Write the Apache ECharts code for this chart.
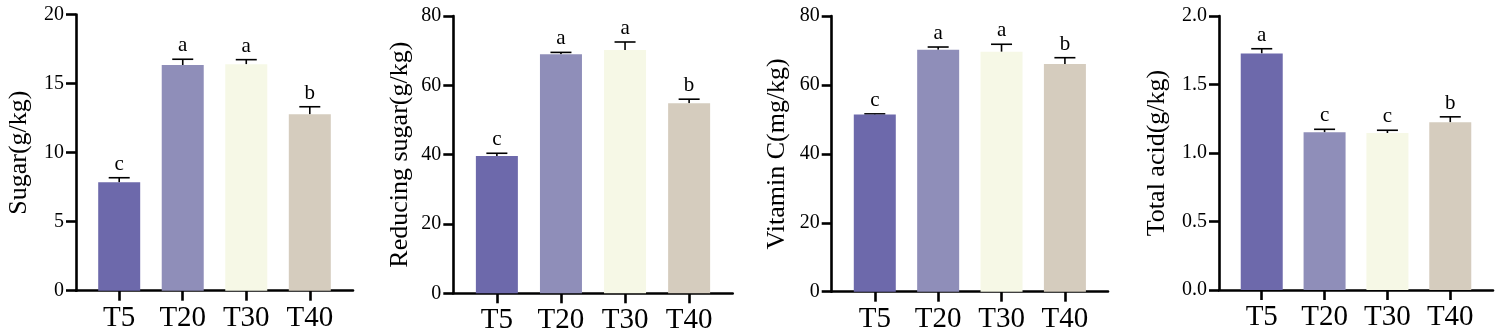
<!DOCTYPE html>
<html>
<head>
<meta charset="utf-8">
<script src="https://cdn.jsdelivr.net/npm/echarts@6/dist/echarts.min.js"></script>
<style>
html,body{margin:0;padding:0;background:#fff;}
#chart{width:1498px;height:336px;}
</style>
</head>
<body>
<div id="chart"></div>
<script>
// ---- data ----
var categories = ['T5', 'T20', 'T30', 'T40'];
var barColors = ['#6D69AB', '#8F8EB9', '#F6F8E6', '#D5CCBE'];

var sugarValues = [7.85, 16.34, 16.39, 12.77];
var sugarErrors = [0.33, 0.42, 0.34, 0.55];
var sugarLetters = ['c', 'a', 'a', 'b'];

var reducingValues = [39.6, 69.0, 70.2, 54.8];
var reducingErrors = [0.8, 0.5, 2.3, 1.2];
var reducingLetters = ['c', 'a', 'a', 'b'];

var vitaminValues = [51.4, 70.2, 69.6, 66.1];
var vitaminErrors = [0.2, 0.8, 2.2, 1.8];
var vitaminLetters = ['c', 'a', 'a', 'b'];

var acidValues = [1.727, 1.151, 1.146, 1.224];
var acidErrors = [0.034, 0.022, 0.02, 0.04];
var acidLetters = ['a', 'c', 'c', 'b'];

var panels = [
  {name: 'Sugar(g/kg)', values: sugarValues, errors: sugarErrors, letters: sugarLetters, max: 20, interval: 5, decimals: 0,
   grid: {left: 76, top: 14.5, width: 277, height: 276.2}, nameGap: 44},
  {name: 'Reducing sugar(g/kg)', values: reducingValues, errors: reducingErrors, letters: reducingLetters, max: 80, interval: 20, decimals: 0,
   grid: {left: 453.3, top: 16, width: 279.4, height: 277.3}, nameGap: 40},
  {name: 'Vitamin C(mg/kg)', values: vitaminValues, errors: vitaminErrors, letters: vitaminLetters, max: 80, interval: 20, decimals: 0,
   grid: {left: 831.7, top: 16, width: 276.3, height: 275.7}, nameGap: 42},
  {name: 'Total acid(g/kg)', values: acidValues, errors: acidErrors, letters: acidLetters, max: 2, interval: 0.5, decimals: 1,
   grid: {left: 1219, top: 16, width: 274, height: 274}, nameGap: 49}
];

// ---- chart ----
var FONT = "'Liberation Serif', 'Times New Roman', serif";
var OFFSET = 0.68;   // category centre offset within value x axis
var XMAX = 4.36;
var catPos = categories.map(function (c, i) { return i + OFFSET; });

var grids = [], xAxes = [], yAxes = [], series = [];
panels.forEach(function (p, k) {
  grids.push({left: p.grid.left, top: p.grid.top, width: p.grid.width, height: p.grid.height, containLabel: false});
  xAxes.push({
    type: 'value', gridIndex: k, min: 0, max: XMAX,
    splitLine: {show: false},
    axisLine: {show: true, onZero: false, lineStyle: {color: '#000', width: 2.6}},
    axisTick: {show: true, length: 10, lineStyle: {color: '#000', width: 2.6}, customValues: catPos},
    axisLabel: {
      show: true, margin: 13, color: '#000', fontFamily: FONT, fontSize: 29,
      customValues: catPos,
      formatter: function (v) { return categories[Math.round(v - OFFSET)]; }
    }
  });
  yAxes.push({
    type: 'value', gridIndex: k, min: 0, max: p.max, interval: p.interval,
    name: p.name, nameLocation: 'middle', nameGap: p.nameGap,
    nameTextStyle: {color: '#000', fontFamily: FONT, fontSize: 26},
    splitLine: {show: false},
    axisLine: {show: true, lineStyle: {color: '#000', width: 2.6}},
    axisTick: {show: true, length: 10, lineStyle: {color: '#000', width: 2.6}},
    axisLabel: {
      margin: 12, color: '#000', fontFamily: FONT, fontSize: 20,
      formatter: function (v) { return v.toFixed(p.decimals); }
    }
  });
  series.push({
    type: 'bar', xAxisIndex: k, yAxisIndex: k, barWidth: 42,
    data: p.values.map(function (v, i) {
      return {value: [catPos[i], v], itemStyle: {color: barColors[i]}};
    }),
    silent: true
  });
  series.push({
    type: 'custom', xAxisIndex: k, yAxisIndex: k, silent: true,
    data: p.values.map(function (v, i) { return [catPos[i], v, v + p.errors[i]]; }),
    renderItem: function (params, api) {
      var x = api.value(0);
      var base = api.coord([x, api.value(1)]);
      var top = api.coord([x, api.value(2)]);
      var half = 10.5;
      return {
        type: 'group',
        children: [
          {type: 'line', shape: {x1: base[0], y1: base[1], x2: top[0], y2: top[1]},
           style: {stroke: '#000', lineWidth: 1.6}},
          {type: 'line', shape: {x1: top[0] - half, y1: top[1], x2: top[0] + half, y2: top[1]},
           style: {stroke: '#000', lineWidth: 1.6}},
          {type: 'text', x: top[0], y: top[1] - 3,
           style: {text: p.letters[params.dataIndex], fill: '#000', font: '21px ' + FONT,
                   align: 'center', verticalAlign: 'bottom'}}
        ]
      };
    }
  });
});

var chart = echarts.init(document.getElementById('chart'), null, {renderer: 'canvas'});
chart.setOption({
  animation: false,
  backgroundColor: '#fff',
  grid: grids,
  xAxis: xAxes,
  yAxis: yAxes,
  series: series
});
</script>
</body>
</html>
